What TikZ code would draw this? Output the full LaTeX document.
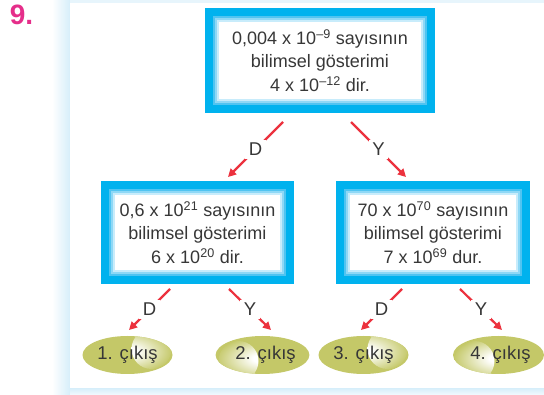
\documentclass[tikz,border=0pt]{standalone}
\usepackage{fontspec}
\setmainfont{Liberation Sans}
\usetikzlibrary{arrows.meta,shapes.geometric}
\definecolor{boxblue}{RGB}{0,178,238}
\definecolor{bandA}{RGB}{80,196,241}
\definecolor{bandB}{RGB}{142,216,246}
\definecolor{bandC}{RGB}{200,236,251}
\definecolor{arrred}{RGB}{236,50,62}
\definecolor{txt}{RGB}{55,55,55}
\definecolor{olivec}{RGB}{196,200,104}
\definecolor{panelblue}{RGB}{214,238,250}
\definecolor{numpink}{RGB}{229,46,138}
\pgfdeclareradialshading{hlshade}{\pgfpoint{0bp}{0bp}}{color(0bp)=(white); color(5bp)=(white); color(25bp)=(olivec); color(50bp)=(olivec)}
\tikzset{
  bx/.style={rectangle, fill=boxblue, inner sep=0pt, align=center, text=txt,
    font=\fontsize{18}{23.5}\selectfont,
    path picture={
      \fill[bandA] ([xshift=8pt,yshift=-8pt]path picture bounding box.north west) rectangle ([xshift=-8pt,yshift=8pt]path picture bounding box.south east);
      \fill[bandB] ([xshift=10pt,yshift=-10pt]path picture bounding box.north west) rectangle ([xshift=-10pt,yshift=10pt]path picture bounding box.south east);
      \fill[bandC] ([xshift=12pt,yshift=-12pt]path picture bounding box.north west) rectangle ([xshift=-12pt,yshift=12pt]path picture bounding box.south east);
      \fill[white] ([xshift=14pt,yshift=-14pt]path picture bounding box.north west) rectangle ([xshift=-14pt,yshift=14pt]path picture bounding box.south east);
    }},
  ell/.style={ellipse, fill=olivec, minimum width=90pt, minimum height=38pt, inner sep=0pt,
    text=txt, font=\fontsize{18.5}{22}\selectfont},
  hlright/.style={path picture={\shade[shading=hlshade] ([xshift=24pt,yshift=6pt]path picture bounding box.center) circle (20pt);}},
  hlleft/.style={path picture={\shade[shading=hlshade] ([xshift=-24pt,yshift=-6pt]path picture bounding box.center) circle (20pt);}},
  arr/.style={draw=arrred, line width=2.2pt, -{Triangle[length=8pt,width=8pt]}},
  lbl/.style={fill=white, text=txt, inner sep=3.5pt, font=\fontsize{18.5}{20}\selectfont},
}
\begin{document}
\begin{tikzpicture}[x=1pt,y=-1pt]
\useasboundingbox (0,0) rectangle (544,395);
% panel
\shade[left color=white, right color=panelblue] (52,0) rectangle (70,395);
\fill[panelblue!60] (70,0) rectangle (544,3);
\shade[top color=panelblue, bottom color=panelblue!30] (70,388) rectangle (544,395);
\fill[white] (70,3) rectangle (544,388);
% number
\node[text=numpink, font=\fontsize{28}{30}\selectfont\bfseries, inner sep=0pt] (num) at (21.5,14.5) {9.};
% boxes
\node[bx, minimum width=230pt, minimum height=105pt] (top) at (320,60.5)
  {0,004 x 10\textsuperscript{–9} sayısının\\bilimsel gösterimi\\4 x 10\textsuperscript{–12} dir.};
\node[bx, minimum width=193pt, minimum height=103pt] (lb) at (197.5,232.5)
  {0,6 x 10\textsuperscript{21} sayısının\\bilimsel gösterimi\\6 x 10\textsuperscript{20} dir.};
\node[bx, minimum width=194pt, minimum height=103pt] (rb) at (433,232.5)
  {70 x 10\textsuperscript{70} sayısının\\bilimsel gösterimi\\7 x 10\textsuperscript{69} dur.};
% ellipses
\node[ell, hlright] (e1) at (127.5,355) {1. çıkış};
\node[ell, hlleft] (e2) at (262.5,355) {\hspace*{6pt}2. çıkış};
\node[ell, hlright] (e3) at (363.5,355) {3. çıkış};
\node[ell, hlleft] (e4) at (498.5,355) {\hspace*{4pt}4. çıkış};
% arrow ends
\coordinate (tDs) at (283,122); \coordinate (tDe) at (228,177);
\coordinate (tYs) at (351,122); \coordinate (tYe) at (406,177);
\coordinate (lDs) at (170,289); \coordinate (lDe) at (129,330);
\coordinate (lYs) at (229,289); \coordinate (lYe) at (271,330);
\coordinate (rDs) at (402,289); \coordinate (rDe) at (361,330);
\coordinate (rYs) at (460,289); \coordinate (rYe) at (502,330);
\draw[arr] (tDs) -- node[lbl]{D} (tDe);
\draw[arr] (tYs) -- node[lbl]{Y} (tYe);
\draw[arr] (lDs) -- node[lbl]{D} (lDe);
\draw[arr] (lYs) -- node[lbl]{Y} (lYe);
\draw[arr] (rDs) -- node[lbl]{D} (rDe);
\draw[arr] (rYs) -- node[lbl]{Y} (rYe);
\end{tikzpicture}
\end{document}
